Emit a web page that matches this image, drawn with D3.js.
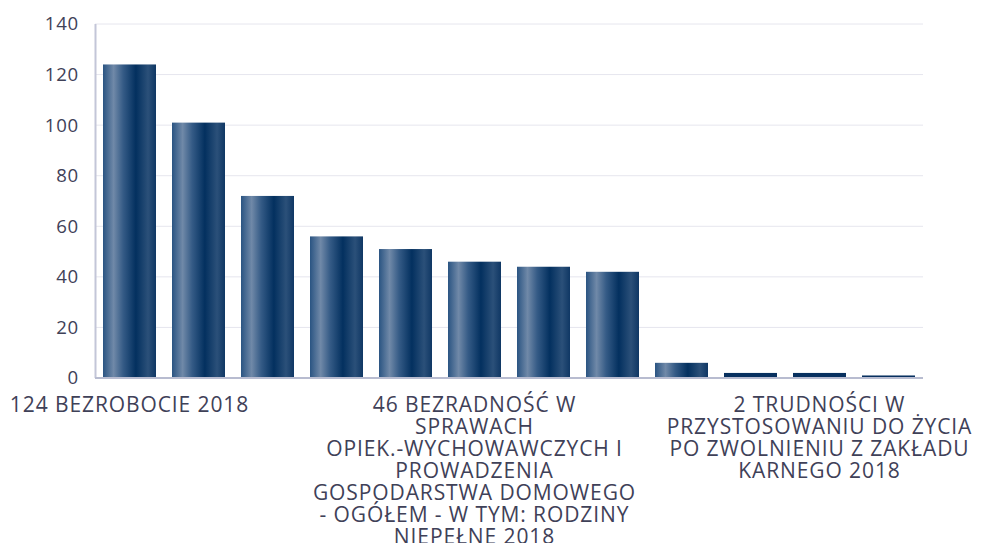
<!DOCTYPE html>
<html lang="pl">

<head>
	<meta charset="UTF-8">
	<title>Wykres</title>

	<style>
		body {
			margin: 0;
			background: #fff;
		}

		text {
			font-family: "Open Sans", sans-serif;
			fill: #3f4158;
		}
	</style>

	<script src="https://d3js.org/d3.v7.min.js"></script>

</head>

<body>

	<script type="text/javascript">
		// values, one per bar
		const values = [124, 101, 72, 56, 51, 46, 44, 42, 6, 2, 2, 1];

		// only every 5th category carries a label in the picture
		const labelIndex = [0, 5, 10];
		const tickLabels = [
			"124 BEZROBOCIE 2018",
			"46 BEZRADNOŚĆ W\nSPRAWACH\nOPIEK.-WYCHOWAWCZYCH I\nPROWADZENIA\nGOSPODARSTWA DOMOWEGO\n- OGÓŁEM - W TYM: RODZINY\nNIEPEŁNE 2018",
			"2 TRUDNOŚCI W\nPRZYSTOSOWANIU DO ŻYCIA\nPO ZWOLNIENIU Z ZAKŁADU\nKARNEGO 2018"
		];
		const yTicks = [0, 20, 40, 60, 80, 100, 120, 140];

		let width = 982;
		let height = 543;
		const margin = { top: 24, right: 59, bottom: 165, left: 95 };

		const svg = d3.select("body").append("svg")
			.attr("width", width)
			.attr("height", height);

		// bar gradient, light streak on the left, dark navy in the middle
		const grad = svg.append("defs").append("linearGradient")
			.attr("id", "barGrad")
			.attr("x1", "0%").attr("x2", "100%")
			.attr("y1", "0%").attr("y2", "0%");
		[
			[0, "#2a5482"],
			[0.2, "#7089a8"],
			[0.38, "#355b86"],
			[0.62, "#03305f"],
			[0.85, "#2b5079"],
			[1, "#0f3764"]
		].forEach(s => grad.append("stop").attr("offset", s[0]).attr("stop-color", s[1]));

		const x = d3.scaleBand()
			.domain(d3.range(values.length))
			.range([margin.left, width - margin.right])
			.paddingInner(0.232)
			.paddingOuter(0.116);

		const y = d3.scaleLinear()
			.domain([0, 140])
			.range([height - margin.bottom, margin.top]);

		// gridlines
		svg.append("g")
			.selectAll("line")
			.data(yTicks.filter(d => d > 0))
			.join("line")
			.attr("x1", margin.left)
			.attr("x2", width - margin.right)
			.attr("y1", d => y(d))
			.attr("y2", d => y(d))
			.attr("stroke", "#e6e6ee")
			.attr("stroke-width", 1);

		// y axis labels
		const yAxis = svg.append("g")
			.attr("transform", `translate(${margin.left},0)`)
			.call(d3.axisLeft(y).tickValues(yTicks).tickSize(0).tickPadding(16));
		yAxis.select(".domain").remove();
		yAxis.selectAll("text")
			.style("font-size", "18.6px")
			.style("letter-spacing", "0.8px")
			.attr("fill", "#3f4158");

		// bars
		svg.selectAll(".bar")
			.data(values)
			.join("rect")
			.attr("class", "bar")
			.attr("x", (d, i) => x(i))
			.attr("width", x.bandwidth())
			.attr("y", d => y(d))
			.attr("height", d => y(0) - y(d))
			.attr("fill", d => (y(0) - y(d)) < 8 ? "#07305f" : "url(#barGrad)");

		// axis lines
		svg.append("line")
			.attr("x1", margin.left + 0.5).attr("x2", margin.left + 0.5)
			.attr("y1", margin.top).attr("y2", y(0))
			.attr("stroke", "#c3c6d8").attr("stroke-width", 2);
		svg.append("line")
			.attr("x1", margin.left).attr("x2", width - margin.right)
			.attr("y1", y(0)).attr("y2", y(0))
			.attr("stroke", "#b8bcd0").attr("stroke-width", 2);

		// x labels, centred under their bar
		labelIndex.forEach((idx, k) => {
			const cx = x(idx) + x.bandwidth() / 2;
			const t = svg.append("text")
				.attr("text-anchor", "middle")
				.style("font-size", "21px")
				.style("letter-spacing", "0.9px")
				.attr("x", cx)
				.attr("y", y(0) + 34);
			tickLabels[k].split("\n").forEach((line, j) => {
				t.append("tspan")
					.attr("x", cx)
					.attr("dy", j === 0 ? 0 : 22)
					.text(line);
			});
		});
	</script>


</body>

</html>
